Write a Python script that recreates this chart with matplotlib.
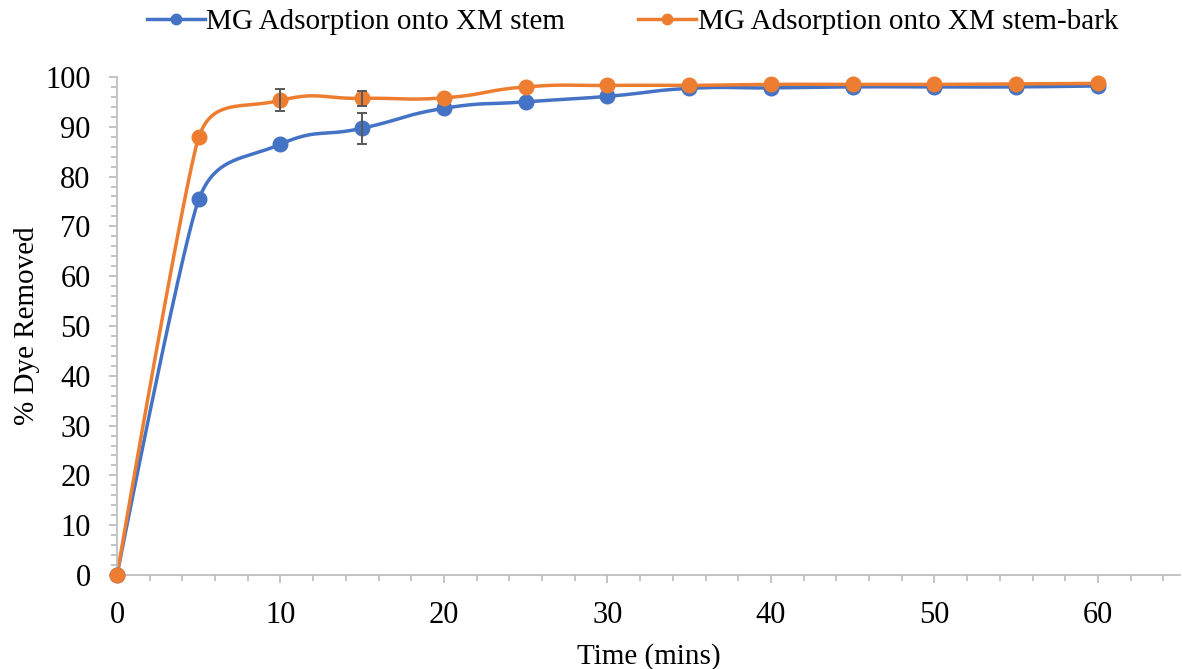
import numpy as np
import matplotlib
matplotlib.use("Agg")
import matplotlib.pyplot as plt
from matplotlib.ticker import MultipleLocator

plt.rcParams["font.family"] = ["Liberation Serif", "DejaVu Serif"]

time = [0, 5, 10, 15, 20, 25, 30, 35, 40, 45, 50, 55, 60]
stem = [0, 75.4, 86.5, 89.7, 93.7, 95.0, 96.1, 97.7, 97.8, 98.0, 98.0, 98.0, 98.2]
bark = [0, 87.9, 95.3, 95.7, 95.8, 98.0, 98.3, 98.3, 98.5, 98.5, 98.5, 98.6, 98.7]
stem_err = [0, 0, 0, 3.1, 0, 0, 0, 0, 0, 0, 0, 0, 0]
bark_err = [0, 0, 2.2, 1.5, 0, 0, 0, 0, 0, 0, 0, 0, 0]

blue = "#4472C4"
orange = "#ED7D31"

# rough pixel scale of the axes, so the smoothing works in screen space
SX, SY = 16.37, 4.98


def smooth(x, y, n=40, tension=0.5):
    # Excel-like smoothed line: cubic Bezier, control points from neighbours,
    # kept short next to short segments so it does not overshoot
    p = np.column_stack([np.asarray(x, float) * SX, np.asarray(y, float) * SY])
    m = len(p)
    xs, ys = [], []
    for i in range(m - 1):
        p0 = p[max(i - 1, 0)]
        p1 = p[i]
        p2 = p[i + 1]
        p3 = p[min(i + 2, m - 1)]
        d01 = np.hypot(*(p1 - p0))
        d12 = np.hypot(*(p2 - p1))
        d23 = np.hypot(*(p3 - p2))
        f1 = tension * min(d01, d12) / (d01 + d12) if d01 > 0 else 0
        f2 = tension * min(d12, d23) / (d12 + d23) if d23 > 0 else 0
        c1 = p1 + f1 * (p2 - p0)
        c2 = p2 - f2 * (p3 - p1)
        t = np.linspace(0, 1, n)[:, None]
        b = (1 - t) ** 3 * p1 + 3 * (1 - t) ** 2 * t * c1 + 3 * (1 - t) * t ** 2 * c2 + t ** 3 * p2
        xs.extend(b[:, 0] / SX)
        ys.extend(b[:, 1] / SY)
    return xs, ys


fig = plt.figure(figsize=(11.82, 6.69), dpi=100)
ax = fig.add_axes([0.099, 0.1405, 0.899, 0.7445])

for y, err, c, lab in [(stem, stem_err, blue, "MG Adsorption onto XM stem"),
                       (bark, bark_err, orange, "MG Adsorption onto XM stem-bark")]:
    sx, sy = smooth(time, y)
    ax.plot(sx, sy, color=c, lw=2.5, zorder=2, clip_on=False)
    ax.plot(time, y, "o", color=c, ms=10.5, zorder=3, clip_on=False)
    ax.plot([], [], "-o", color=c, lw=2.5, ms=7.5, label=lab)
    e = np.array(err)
    m = e > 0
    ax.errorbar(np.array(time)[m], np.array(y)[m], yerr=e[m], fmt="none",
                ecolor="#595959", elinewidth=1.4, capsize=3.6, capthick=1.4, zorder=4)

ax.set_xlim(0, 65)
ax.set_ylim(0, 100)
ax.xaxis.set_major_locator(MultipleLocator(10))
ax.xaxis.set_minor_locator(MultipleLocator(2))
ax.yaxis.set_major_locator(MultipleLocator(10))
ax.yaxis.set_minor_locator(MultipleLocator(2))

for s in ["top", "right"]:
    ax.spines[s].set_visible(False)
for s in ["left", "bottom"]:
    ax.spines[s].set_color("#BFBFBF")
    ax.spines[s].set_linewidth(1.3)
ax.tick_params(which="major", length=6, width=1.3, color="#BFBFBF", labelsize=22, pad=13)
ax.tick_params(which="minor", length=4.5, width=1.3, color="#BFBFBF")

ax.set_xlabel("Time (mins)", fontsize=21, labelpad=9)
ax.set_ylabel("% Dye Removed", fontsize=21, labelpad=4)

ax.legend(loc="center", bbox_to_anchor=(0.485, 1.11), ncol=2, frameon=False,
          fontsize=21, handlelength=2.0, handletextpad=0.05, columnspacing=2.5,
          borderaxespad=0)

fig.savefig("out.png", dpi=100)
